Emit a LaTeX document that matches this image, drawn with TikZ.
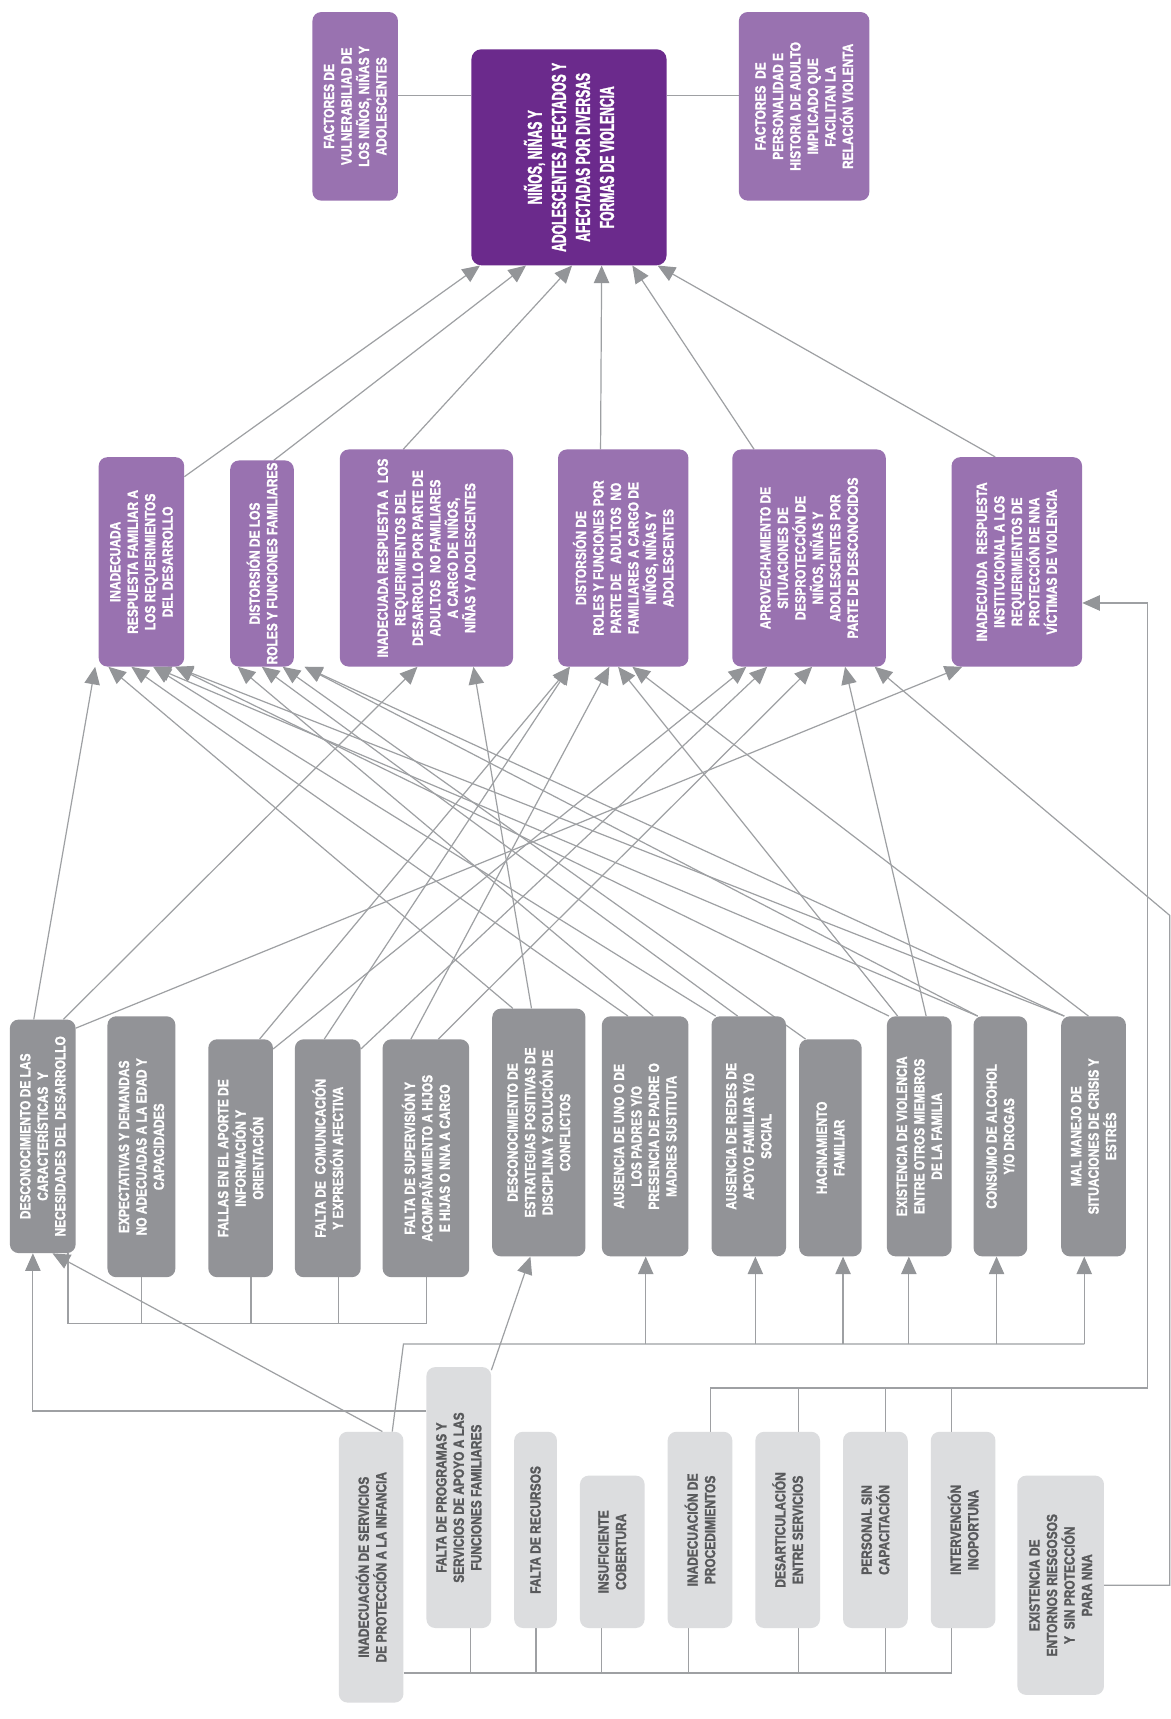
\documentclass[tikz,border=0pt]{standalone}
\usepackage{fontspec}
\newfontfamily\boxfont{Liberation Sans}[FakeStretch=0.81, BoldFeatures={FakeBold=1.5}]
\newfontfamily\bigboxfont{Liberation Sans}[FakeStretch=0.6, BoldFeatures={FakeBold=1.5}]
\usetikzlibrary{arrows.meta}
\definecolor{pmain}{RGB}{107,42,140}
\definecolor{pmid}{RGB}{153,114,176}
\definecolor{gmid}{RGB}{146,147,151}
\definecolor{glight}{RGB}{220,221,223}
\definecolor{gtext}{RGB}{88,89,91}
\definecolor{lncol}{RGB}{158,160,163}
\definecolor{tipcol}{RGB}{147,149,152}
\pgfdeclarelayer{back}
\pgfdeclarelayer{bg}
\pgfsetlayers{back,bg,main}
\tikzset{
  boxbase/.style={rectangle, rounded corners=8bp, inner sep=0pt, draw=none},
  mainbox/.style={boxbase, fill=pmain, rounded corners=9bp},
  purbox/.style={boxbase, fill=pmid},
  grybox/.style={boxbase, fill=gmid},
  ltbox/.style={boxbase, fill=glight},
  mainboxtxt/.style={text=white, font=\bigboxfont\bfseries\fontsize{18.5}{22}\selectfont, align=center, inner sep=0pt},
  purboxtxt/.style={text=white, font=\boxfont\bfseries\fontsize{13.5}{16}\selectfont, align=center, inner sep=0pt},
  gryboxtxt/.style={text=white, font=\boxfont\bfseries\fontsize{13.5}{16}\selectfont, align=center, inner sep=0pt},
  ltboxtxt/.style={text=gtext, font=\boxfont\bfseries\fontsize{13.5}{16}\selectfont, align=center, inner sep=0pt},
  ln/.style={draw=lncol, line width=1.1bp},
  arr/.style={ln, -{Triangle[length=16bp, width=14bp, color=tipcol]}},
}
\newcommand\mybox[7]{%
  \node[#1, minimum width={(#5-#3)*1bp}, minimum height={(#6-#4)*1bp}] (#2) at ({(#3+#5)/2},{(#4+#6)/2}) {};
  \node[#1txt, rotate=90] at (#2) {#7};}
\begin{document}
\begin{tikzpicture}[x=1bp, y=-1bp]
\useasboundingbox (0,0) rectangle (1068,1568);
\begin{pgfonlayer}{back}
\fill[white] (0,0) rectangle (1068,1568);
\end{pgfonlayer}
% top row
\mybox{purbox}{vuln}{285}{11}{363}{183}{FACTORES DE\\VULNERABILIAD DE\\LOS NIÑOS, NIÑAS Y\\ADOLESCENTES}
\mybox{mainbox}{main}{430}{45}{608}{242}{NIÑOS, NIÑAS Y\\ADOLESCENTES AFECTADOS Y\\AFECTADAS POR DIVERSAS\\FORMAS DE VIOLENCIA}
\mybox{purbox}{pers}{674}{11}{793}{183}{FACTORES\ \ DE\\PERSONALIDAD E\\HISTORIA DE ADULTO\\IMPLICADO QUE\\FACILITAN LA\\RELACIÓN VIOLENTA}
% second row
\mybox{purbox}{b1}{90}{417}{168}{608}{INADECUADA\\RESPUESTA FAMILIAR A\\LOS REQUERIMIENTOS\\DEL DESARROLLO}
\mybox{purbox}{b2}{210}{420}{268}{608}{DISTORSIÓN DE LOS\\ROLES Y FUNCIONES FAMILIARES}
\mybox{purbox}{b3}{310}{410}{468}{608}{INADECUADA RESPUESTA A\ \ LOS\\REQUERIMIENTOS DEL\\DESARROLLO POR PARTE DE\\ADULTOS\ \ NO FAMILIARES\\A CARGO DE NIÑOS,\\NIÑAS Y ADOLESCENTES}
\mybox{purbox}{b4}{509}{410}{628}{608}{DISTORSIÓN DE\\ROLES Y FUNCIONES POR\\PARTE DE\ \ \ ADULTOS\ \ NO\\FAMILIARES A CARGO DE\\NIÑOS, NIÑAS Y\\ADOLESCENTES}
\mybox{purbox}{b5}{668}{410}{808}{608}{APROVECHAMIENTO DE\\SITUACIONES DE\\DESPROTECCIÓN DE\\NIÑOS, NIÑAS Y\\ADOLESCENTES POR\\PARTE DE DESCONOCIDOS}
\mybox{purbox}{b6}{868}{417}{987}{608}{INADECUADA\ \ RESPUESTA\\INSTITUCIONAL A LOS\\REQUERIMIENTOS DE\\PROTECCIÓN DE NNA\\VÍCTIMAS DE VIOLENCIA}
% third row
\mybox{grybox}{c1}{9}{930}{69}{1143}{DESCONOCIMIENTO DE LAS\\CARACTERÍSTICAS\ \ Y\\NECESIDADES DEL DESARROLLO}
\mybox{grybox}{c2}{98}{927}{160}{1165}{EXPECTATIVAS Y DEMANDAS\\NO ADECUADAS A LA EDAD Y\\CAPACIDADES}
\mybox{grybox}{c3}{190}{948}{249}{1165}{FALLAS EN EL APORTE DE\\INFORMACIÓN Y\\ORIENTACIÓN}
\mybox{grybox}{c4}{269}{948}{329}{1165}{FALTA DE\ \ COMUNICACIÓN\\Y EXPRESIÓN AFECTIVA}
\mybox{grybox}{c5}{349}{948}{428}{1165}{FALTA DE SUPERVISIÓN Y\\ACOMPAÑAMIENTO A HIJOS\\E HIJAS O NNA A CARGO}
\mybox{grybox}{c6}{449}{920}{534}{1146}{DESCONOCIMIENTO DE\\ESTRATEGIAS POSITIVAS DE\\DISCIPLINA Y SOLUCIÓN DE\\CONFLICTOS}
\mybox{grybox}{c7}{549}{927}{628}{1146}{AUSENCIA DE UNO O DE\\LOS PADRES Y/O\\PRESENCIA DE PADRE O\\MADRES SUSTITUTA}
\mybox{grybox}{c8}{649}{927}{717}{1146}{AUSENCIA DE REDES DE\\APOYO FAMILIAR Y/O\\SOCIAL}
\mybox{grybox}{c9}{729}{948}{786}{1146}{HACINAMIENTO\\FAMILIAR}
\mybox{grybox}{c10}{809}{927}{868}{1146}{EXISTENCIA DE VIOLENCIA\\ENTRE OTROS MIEMBROS\\DE LA FAMILIA}
\mybox{grybox}{c11}{888}{927}{937}{1146}{CONSUMO DE ALCOHOL\\Y/O DROGAS}
\mybox{grybox}{c12}{968}{927}{1027}{1146}{MAL MANEJO DE\\SITUACIONES DE CRISIS Y\\ESTRÉS}
% fourth row
\mybox{ltbox}{d1}{309}{1306}{368}{1553}{INADECUACIÓN DE SERVICIOS\\DE PROTECCIÓN A LA INFANCIA}
\mybox{ltbox}{d2}{389}{1247}{448}{1485}{FALTA DE PROGRAMAS Y\\SERVICIOS DE APOYO A LAS\\FUNCIONES FAMILIARES}
\mybox{ltbox}{d3}{469}{1306}{508}{1485}{FALTA DE RECURSOS}
\mybox{ltbox}{d4}{529}{1346}{588}{1485}{INSUFICIENTE\\COBERTURA}
\mybox{ltbox}{d5}{609}{1306}{668}{1485}{INADECUACIÓN DE\\PROCEDIMIENTOS}
\mybox{ltbox}{d6}{689}{1306}{748}{1485}{DESARTICULACIÓN\\ENTRE SERVICIOS}
\mybox{ltbox}{d7}{769}{1306}{828}{1485}{PERSONAL SIN\\CAPACITACIÓN}
\mybox{ltbox}{d8}{849}{1306}{908}{1485}{INTERVENCIÓN\\INOPORTUNA}
\mybox{ltbox}{d9}{928}{1346}{1007}{1546}{EXISTENCIA DE\\ENTORNOS RIESGOSOS\\Y\ \ SIN PROTECCIÓN\\PARA NNA}
% junction coordinates
\coordinate (ty) at (500,87);
\coordinate (g1) at (62,1207); \coordinate (g2) at (129,1207); \coordinate (g3) at (229,1207);
\coordinate (g4) at (309,1207); \coordinate (g5) at (389,1207);
\coordinate (k0) at (368,1226); \coordinate (k7) at (589,1226); \coordinate (k8) at (689,1226);
\coordinate (k9) at (769,1226); \coordinate (k10) at (829,1226); \coordinate (k11) at (909,1226);
\coordinate (k12) at (989,1226);
\coordinate (w1) at (30,1287);
\coordinate (u5) at (648,1266); \coordinate (u6) at (728,1266); \coordinate (u7) at (808,1266);
\coordinate (u8) at (868,1266); \coordinate (u9) at (1047,1266); \coordinate (u10) at (1047,550);
\coordinate (v1) at (1067,1446); \coordinate (v2) at (1067,835);
\coordinate (e2) at (429,1526); \coordinate (e3) at (489,1526); \coordinate (e4) at (549,1526);
\coordinate (e5) at (628,1526); \coordinate (e6) at (728,1526); \coordinate (e7) at (808,1526);
\coordinate (e8) at (868,1526);
\begin{pgfonlayer}{bg}
% top links
\draw[ln] (vuln.east |- ty) -- (main.west |- ty);
\draw[ln] (main.east |- ty) -- (pers.west |- ty);
% second row to main
\draw[arr] ([yshift=-18bp]b1.north east) -- ([xshift=8bp]main.south west);
\draw[arr] ([xshift=40bp]b2.north west) -- ([xshift=50bp]main.south west);
\draw[arr] ([xshift=58bp]b3.north west) -- ([xshift=92bp]main.south west);
\draw[arr] ([xshift=39bp]b4.north west) -- ([xshift=119bp]main.south west);
\draw[arr] ([xshift=20bp]b5.north west) -- ([xshift=147bp]main.south west);
\draw[arr] ([xshift=40bp]b6.north west) -- ([xshift=170bp]main.south west);
% third row to second row
\draw[arr] ([xshift=22bp]c1.north west) -- ([xshift=-3bp]b1.south west);
\draw[arr] ([xshift=49bp]c1.north west) -- ([xshift=71bp]b3.south west);
\draw[arr] ([yshift=-8bp]c1.north east) -- ([xshift=10bp]b6.south west);
\draw[arr] ([xshift=47bp]c3.north west) -- ([xshift=11bp]b4.south west);
\draw[arr] ([yshift=-9bp]c3.north east) -- ([xshift=13bp]b5.south west);
\draw[arr] ([xshift=27bp]c4.north west) -- ([xshift=11bp]b4.south west);
\draw[arr] ([yshift=-9bp]c4.north east) -- ([xshift=32bp]b5.south west);
\draw[arr] ([xshift=26bp]c5.north west) -- ([xshift=47bp]b4.south west);
\draw[arr] ([xshift=51bp]c5.north west) -- ([xshift=73bp]b5.south west);
\draw[arr] ([xshift=19bp]c6.north west) -- ([xshift=9bp]b1.south west);
\draw[arr] ([xshift=36bp]c6.north west) -- ([xshift=122bp]b3.south west);
\draw[arr] ([xshift=24bp]c7.north west) -- ([xshift=30bp]b1.south west);
\draw[arr] ([xshift=47bp]c7.north west) -- ([xshift=7bp]b2.south west);
\draw[arr] ([xshift=4bp]c8.north west) -- ([xshift=50bp]b1.south west);
\draw[arr] ([xshift=24bp]c8.north west) -- ([xshift=29bp]b2.south west);
\draw[arr] ([xshift=6bp]c9.north west) -- ([xshift=48bp]b2.south west);
\draw[arr] ([xshift=2bp]c10.north west) -- ([xshift=70bp]b1.south west);
\draw[arr] ([xshift=10bp]c10.north west) -- ([xshift=55bp]b4.south west);
\draw[arr] ([xshift=36bp]c10.north west) -- ([xshift=103bp]b5.south west);
\draw[arr] ([xshift=4bp]c11.north west) -- ([xshift=50bp]b1.south west);
\draw[arr] ([xshift=4bp]c11.north west) -- ([xshift=68bp]b2.south west);
\draw[arr] ([xshift=3bp]c12.north west) -- ([xshift=70bp]b1.south west);
\draw[arr] ([xshift=3bp]c12.north west) -- ([xshift=68bp]b2.south west);
\draw[arr] ([xshift=25bp]c12.north west) -- ([xshift=68bp]b4.south west);
% bracket under C1..C5
\draw[ln] (c1.south -| g1) -- (g1) -- (g5) -- (c5.south -| g5);
\draw[ln] (c2.south -| g2) -- (g2);
\draw[ln] (c3.south -| g3) -- (g3);
\draw[ln] (c4.south -| g4) -- (g4);
% D1 to C7..C12
\draw[ln] ([xshift=49bp]d1.north west) -- (k0) -- (k12);
\draw[arr] (k7) -- (c7.south -| k7);
\draw[arr] (k8) -- (c8.south -| k8);
\draw[arr] (k9) -- (c9.south -| k9);
\draw[arr] (k10) -- (c10.south -| k10);
\draw[arr] (k11) -- (c11.south -| k11);
\draw[arr] (k12) -- (c12.south -| k12);
% D1, D2 to C1 and C6
\draw[arr] ([xshift=40bp]d1.north west) -- ([xshift=39bp]c1.south west);
\draw[arr] (d2.west |- w1) -- (w1) -- (c1.south -| w1);
\draw[arr] ([yshift=-3bp]d2.north east) -- ([xshift=35bp]c6.south west);
% bracket under D1..D8
\draw[ln] (d1.east |- e2) -- (e8);
\draw[ln] (d2.south -| e2) -- (e2);
\draw[ln] (d3.south -| e3) -- (e3);
\draw[ln] (d4.south -| e4) -- (e4);
\draw[ln] (d5.south -| e5) -- (e5);
\draw[ln] (d6.south -| e6) -- (e6);
\draw[ln] (d7.south -| e7) -- (e7);
\draw[ln] (d8.south -| e8) -- (e8);
% D5..D8 to B6
\draw[arr] (d5.north -| u5) -- (u5) -- (u9) -- (u10) -- (b6.east |- u10);
\draw[ln] (d6.north -| u6) -- (u6);
\draw[ln] (d7.north -| u7) -- (u7);
\draw[ln] (d8.north -| u8) -- (u8);
% D9 to B5
\draw[arr] (d9.east |- v1) -- (v1) -- (v2) -- ([xshift=130bp]b5.south west);
\end{pgfonlayer}
\end{tikzpicture}
\end{document}
